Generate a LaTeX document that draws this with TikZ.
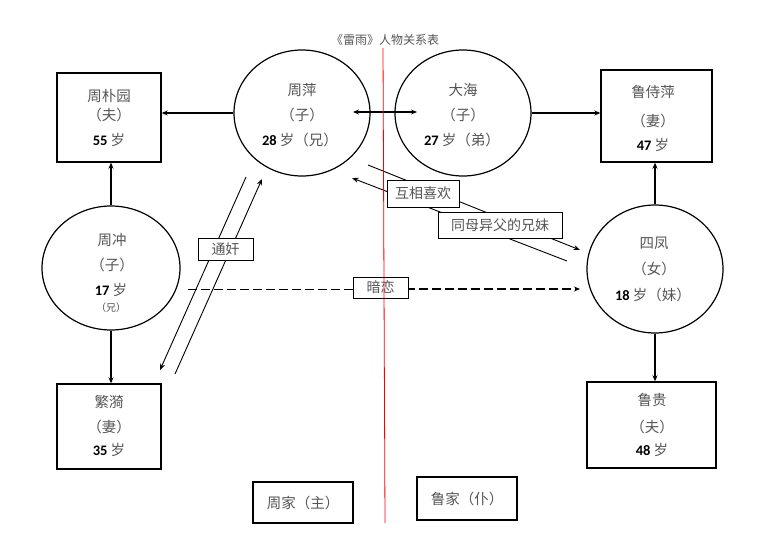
\documentclass[tikz,border=0pt]{standalone}
\usepackage{fontspec}
\setmainfont{Carlito}
\newfontfamily\cjk{Noto Sans CJK SC}
\usetikzlibrary{shapes.geometric,arrows.meta}
\definecolor{txtgray}{HTML}{555555}
\newcommand{\zh}[1]{{\cjk\color{txtgray}#1}}
\begin{document}
\begin{tikzpicture}[x=1pt,y=-1pt,
  box/.style={draw, rectangle, line width=1.4pt, inner sep=0pt},
  circ/.style={draw, ellipse, line width=1.2pt, inner sep=0pt, minimum width=136pt, minimum height=126pt},
  lab/.style={draw, rectangle, line width=0.9pt, fill=white, inner sep=0pt, font=\cjk\fontsize{14}{14}\selectfont, text=txtgray},
  tx/.style={font=\fontsize{14.5}{15}\selectfont, inner sep=0pt},
  arr/.style={-{Stealth[length=6pt,width=5pt]}, line width=1.25pt},
  thinarr/.style={-{Stealth[length=6.5pt,width=5pt]}, line width=0.9pt},
  dsh/.style={dash pattern=on 9pt off 4pt}
]
\useasboundingbox (0,0) rectangle (768,543);

% title
\node[font=\cjk\fontsize{12}{12}\selectfont, text=txtgray, inner sep=0pt] (title) at (385,40) {《雷雨》人物关系表};

% boxes
\node[box, minimum width=104pt, minimum height=89pt] (zpy) at (109,117.5) {};
\node[box, minimum width=104pt, minimum height=85pt] (fy) at (109,426.5) {};
\node[box, minimum width=111pt, minimum height=92pt] (lsp) at (656.5,116) {};
\node[box, minimum width=129pt, minimum height=86pt] (lg) at (651.5,425) {};
\node[box, minimum width=100pt, minimum height=41pt, font=\cjk\fontsize{14.5}{15}\selectfont, text=txtgray] (zj) at (303,502.5) {周家（主）};
\node[box, minimum width=100pt, minimum height=43pt, font=\cjk\fontsize{14.5}{15}\selectfont, text=txtgray] (lj) at (467,498.5) {鲁家（仆）};

% circles
\node[circ] (zp) at (302,113) {};
\node[circ] (dh) at (463,113) {};
\node[circ, minimum width=138pt, minimum height=124pt] (zc) at (111,268) {};
\node[circ, minimum height=128pt] (sf) at (655,269) {};

% texts in boxes
\node[tx] (t1) at (109,96) {\zh{周朴园}};
\node[tx] (t2) at (109,115) {\zh{（夫）}};
\node[tx] (t3) at (109,140) {\textbf{55} \zh{岁}};
\node[tx] (t4) at (109,402) {\zh{繁漪}};
\node[tx] (t5) at (109,427) {\zh{（妻）}};
\node[tx] (t6) at (109,450) {\textbf{35} \zh{岁}};
\node[tx] (t7) at (653,92) {\zh{鲁侍萍}};
\node[tx] (t8) at (653,121) {\zh{（妻）}};
\node[tx] (t9) at (653,145) {\textbf{47} \zh{岁}};
\node[tx] (t10) at (652,400) {\zh{鲁贵}};
\node[tx] (t11) at (652,427) {\zh{（夫）}};
\node[tx] (t12) at (652,450) {\textbf{48} \zh{岁}};

% texts in circles
\node[tx] (c1) at (302,90) {\zh{周萍}};
\node[tx] (c2) at (302,115) {\zh{（子）}};
\node[tx] (c3) at (300,140) {\textbf{28} \zh{岁（兄）}};
\node[tx] (c4) at (463,90) {\zh{大海}};
\node[tx] (c5) at (463,115) {\zh{（子）}};
\node[tx] (c6) at (462,140) {\textbf{27} \zh{岁（弟）}};
\node[tx] (c7) at (112,240) {\zh{周冲}};
\node[tx] (c8) at (112,265) {\zh{（子）}};
\node[tx] (c9) at (111,290) {\textbf{17} \zh{岁}};
\node[tx, font=\fontsize{10}{10}\selectfont] (c10) at (111,308) {\zh{（兄）}};
\node[tx] (c11) at (654,243) {\zh{四凤}};
\node[tx] (c12) at (654,269) {\zh{（女）}};
\node[tx] (c13) at (653,295) {\textbf{18} \zh{岁（妹）}};

% main connectors
\draw[arr, line width=1.7pt] (zp.west) -- (zp.west -| zpy.east);
\draw[arr, line width=1.7pt] (dh.east) -- (dh.east -| lsp.west);
\coordinate (dl) at (353,112);
\coordinate (dr) at (417,112);
\draw[{Stealth[length=6pt,width=5pt]}-{Stealth[length=6pt,width=5pt]}, line width=1.7pt] (dl) -- (dr);
\draw[arr] (zc.north) -- (zc.north |- zpy.south);
\draw[arr] (zc.south) -- (zc.south |- fy.north);
\draw[arr] (sf.north) -- (sf.north |- lsp.south);
\draw[arr] (sf.south) -- (sf.south |- lg.north);

% 通奸
\coordinate (ta1) at (246,177);
\coordinate (ta2) at (160,370);
\coordinate (tb1) at (175,374);
\coordinate (tb2) at (262,179);
\draw[thinarr] (ta1) -- (ta2);
\draw[thinarr] (tb1) -- (tb2);

% 互相喜欢 / 同母异父的兄妹
\coordinate (p1) at (368,165);
\coordinate (p2) at (580,250);
\coordinate (q1) at (567,261);
\coordinate (q2) at (352,178);
\draw[thinarr] (p1) -- (p2);
\draw[thinarr] (q1) -- (q2);

% 暗恋
\coordinate (d1) at (188,289);
\coordinate (d2) at (580,289);
\draw[dsh, line width=0.9pt] (d1) -- (380,289);
\draw[dsh, line width=1.5pt, -{Stealth[length=6pt,width=5pt]}] (380,289) -- (d2);

% labels
\node[lab, minimum width=55pt, minimum height=22pt] (l1) at (225.5,249) {通奸};
\node[lab, minimum width=72pt, minimum height=27pt] (l2) at (423,193.5) {互相喜欢};
\node[lab, minimum width=124pt, minimum height=26pt] (l3) at (500,225) {同母异父的兄妹};
\node[lab, minimum width=55pt, minimum height=21pt] (l4) at (380.5,287.5) {暗恋};

% red divider
\coordinate (r1) at (383,48);
\coordinate (r2) at (385,523);
\draw[red, line width=0.8pt] (r1) -- (r2);
\end{tikzpicture}
\end{document}
